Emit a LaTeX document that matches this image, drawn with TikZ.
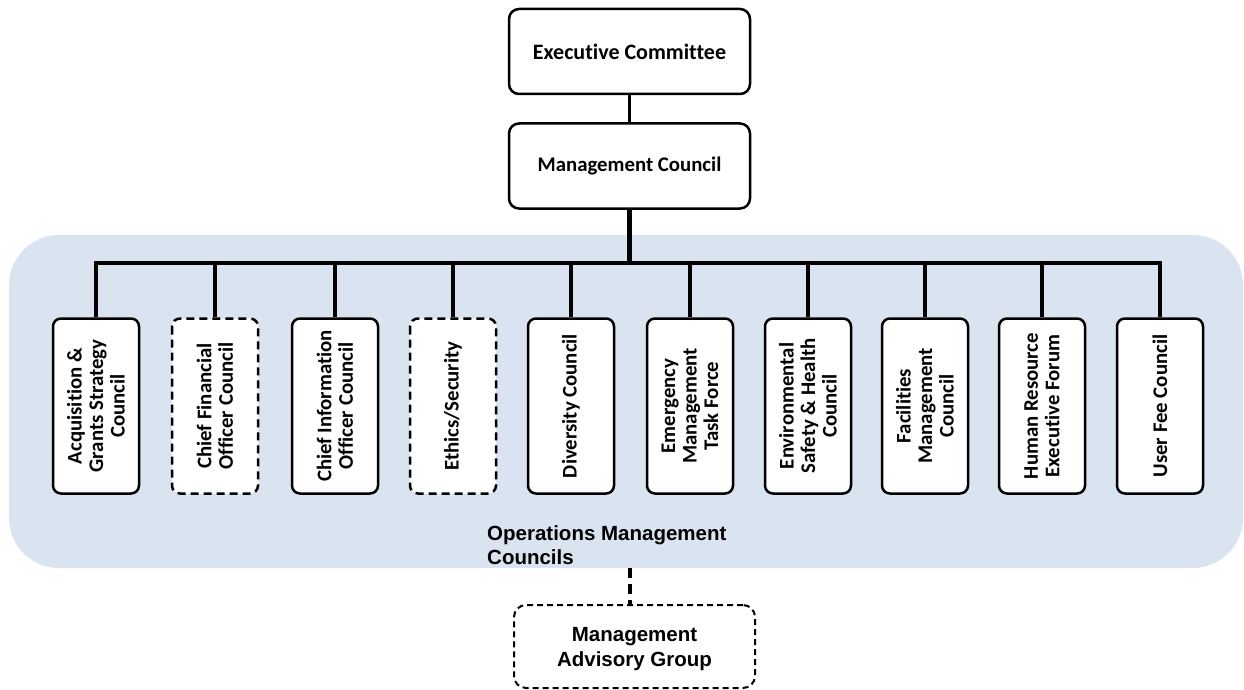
\documentclass[tikz,border=0pt]{standalone}
\usepackage{fontspec}
\newfontfamily\boxfont[Ligatures=NoCommon]{Carlito}
\newfontfamily\labelfont{Liberation Sans}
\definecolor{panelblue}{RGB}{218,227,240}
\begin{document}
\begin{tikzpicture}[x=1pt,y=-1pt,
  topbox/.style={draw, line width=2.5pt, rounded corners=10pt, fill=white,
    minimum width=241pt, minimum height=85pt, inner sep=0pt,
    font=\boxfont\bfseries\fontsize{20.8}{22}\selectfont},
  council/.style={draw, line width=2.5pt, rounded corners=8pt, fill=white,
    rotate=90, minimum width=175pt, minimum height=86pt, inner sep=0pt,
    align=center, font=\boxfont\bfseries\fontsize{20.8}{21.5}\selectfont},
  tentative/.style={dash pattern=on 8pt off 5pt},
  conn/.style={line width=4pt, line join=miter},
  panel/.style={fill=panelblue, rounded corners=50pt, inner sep=0pt,
    minimum width=1234pt, minimum height=333pt},
  advisory/.style={draw, line width=2pt, dash pattern=on 6pt off 4pt,
    rounded corners=12pt, fill=white, minimum width=241pt, minimum height=83pt,
    inner sep=0pt, align=center, text depth=0pt,
    font=\labelfont\bfseries\fontsize{20.5}{25}\selectfont}]
\useasboundingbox (0,0) rectangle (1244,690);

% shaded group of operations councils
\node[panel] (ops) at (626,401.5) {};

% top of the hierarchy
\node[topbox, font=\boxfont\bfseries\fontsize{22}{23}\selectfont] (ec) at (629.5,51.5) {Executive Committee};
\node[topbox] (mc) at (629.5,166) {Management Council};

% operations management councils
\node[council] (c1) at (96,406) {Acquisition \&\\Grants Strategy\\Council};
\node[council, tentative] (c2) at (215,406) {Chief Financial\\Officer Council};
\node[council] (c3) at (335,406) {Chief Information\\Officer Council};
\node[council, tentative] (c4) at (453,406) {Ethics/Security};
\node[council] (c5) at (571,406) {Diversity Council};
\node[council] (c6) at (690,406) {Emergency\\Management\\Task Force};
\node[council] (c7) at (808,406) {Environmental\\Safety \& Health\\Council};
\node[council] (c8) at (925,406) {Facilities\\Management\\Council};
\node[council] (c9) at (1042,406) {Human Resource\\Executive Forum};
\node[council] (c10) at (1160,406) {User Fee Council};

\node[anchor=north west, inner sep=0pt, align=left,
  font=\labelfont\bfseries\fontsize{20.5}{24}\selectfont] (opslabel) at (487,525)
  {Operations Management\\Councils};

\node[advisory] (mag) at (634.5,646.5) {Management\\Advisory Group};

% connectors
\coordinate (bus) at (629.5,263);
\draw[line width=3.5pt] (ec) -- (mc);
\draw[line width=5pt] (mc) -- (mc |- bus);
\draw[conn] (c1) -- (c1 |- bus) -- (c10 |- bus) -- (c10);
\foreach \c in {c2,c3,c4,c5,c6,c7,c8,c9}
  \draw[conn] (\c |- bus) -- (\c);
\draw[line width=4pt, dash pattern=on 10pt off 6pt] (ops.south -| mc) -- (mag.north -| mc);
\end{tikzpicture}
\end{document}
